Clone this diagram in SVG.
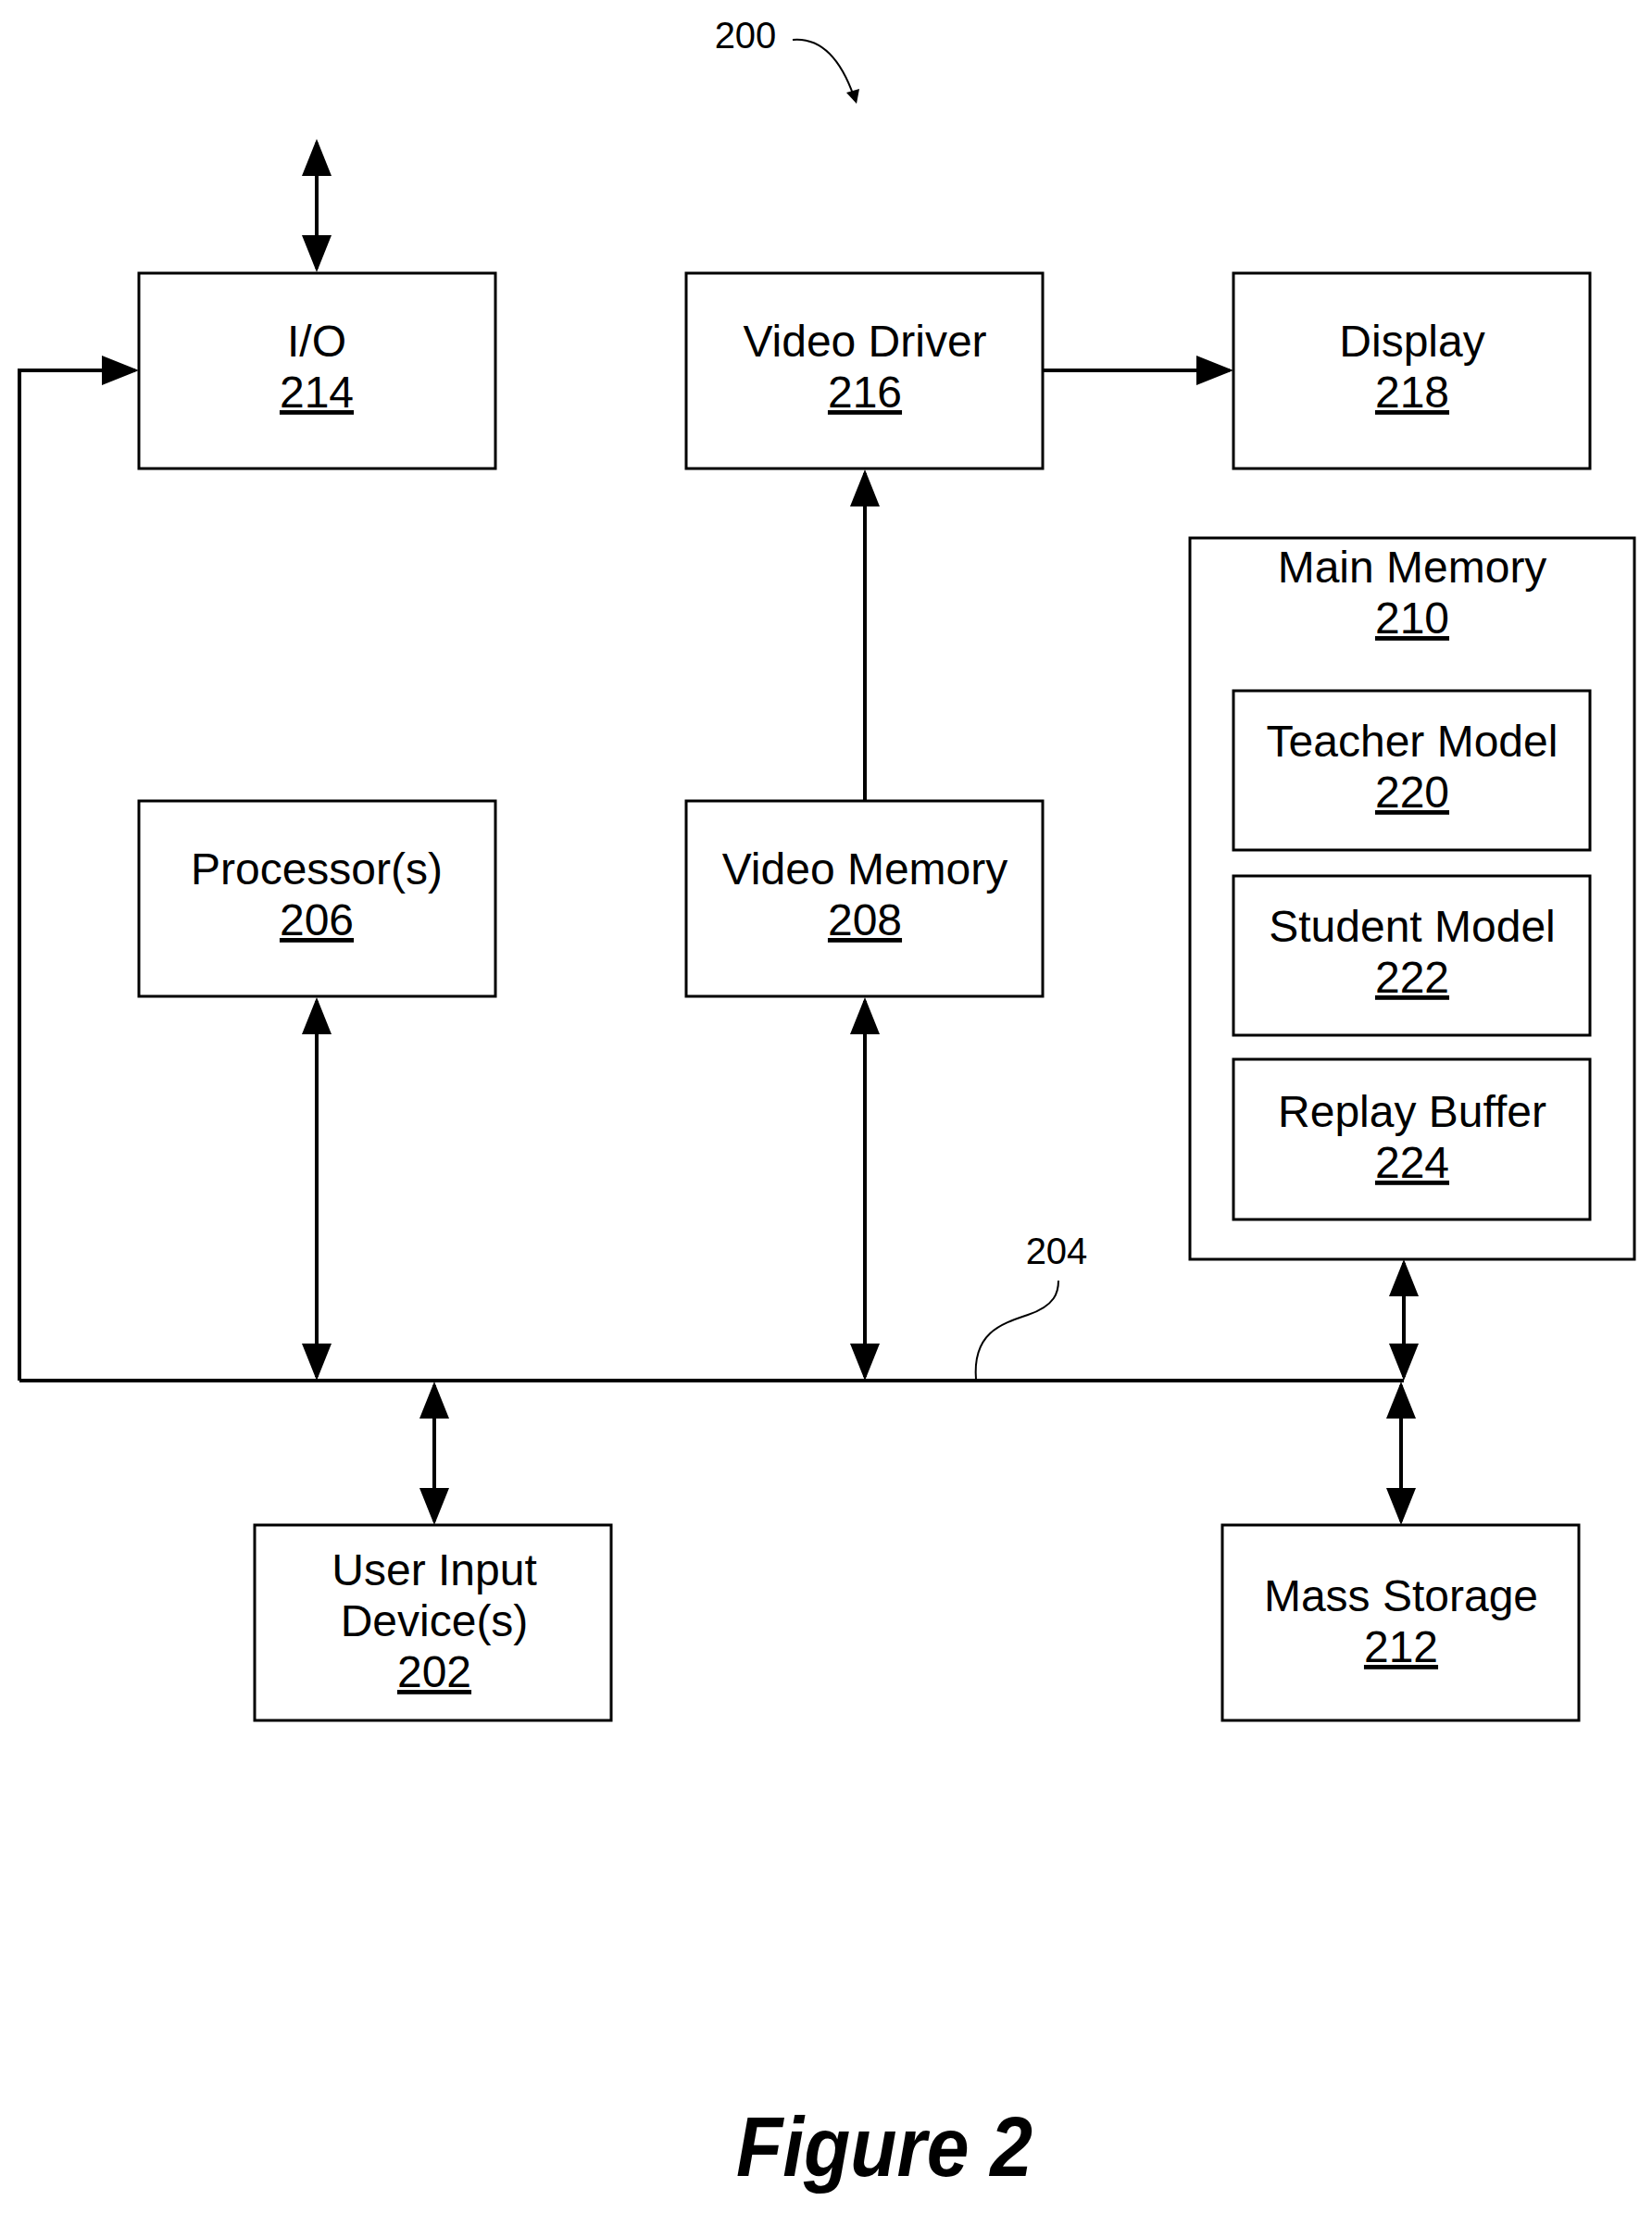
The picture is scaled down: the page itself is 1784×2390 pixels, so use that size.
<svg xmlns="http://www.w3.org/2000/svg" width="1784" height="2390" viewBox="0 0 1784 2390">
<style>
.b{fill:#fff;stroke:#000;stroke-width:3}
.t{font-family:"Liberation Sans",Arial,sans-serif;font-size:48px;text-anchor:middle;fill:#000}
.u{text-decoration:underline}
.c{stroke:#000;stroke-width:4;fill:none}
.l{font-family:"Liberation Sans",Arial,sans-serif;font-size:40px;text-anchor:middle}
</style>
<defs><marker id="a" markerWidth="10" markerHeight="8" refX="9" refY="4" orient="auto-start-reverse" markerUnits="strokeWidth"><path d="M0,0L10,4L0,8z" fill="#000"/></marker></defs>
<rect width="1784" height="2390" fill="#fff"/>
<g id="n214"><rect class="b" x="150" y="295" width="385" height="211"/><text class="t" x="342" y="385">I/O</text><text class="t u" x="342" y="440">214</text></g>
<g id="n216"><rect class="b" x="741" y="295" width="385" height="211"/><text class="t" x="934" y="385">Video Driver</text><text class="t u" x="934" y="440">216</text></g>
<g id="n218"><rect class="b" x="1332" y="295" width="385" height="211"/><text class="t" x="1525" y="385">Display</text><text class="t u" x="1525" y="440">218</text></g>
<g id="n210"><rect class="b" x="1285" y="581" width="480" height="779"/><text class="t" x="1525" y="629">Main Memory</text><text class="t u" x="1525" y="684">210</text></g>
<g id="n220"><rect class="b" x="1332" y="746" width="385" height="172"/><text class="t" x="1525" y="817">Teacher Model</text><text class="t u" x="1525" y="872">220</text></g>
<g id="n222"><rect class="b" x="1332" y="946" width="385" height="172"/><text class="t" x="1525" y="1017">Student Model</text><text class="t u" x="1525" y="1072">222</text></g>
<g id="n224"><rect class="b" x="1332" y="1144" width="385" height="173"/><text class="t" x="1525" y="1217">Replay Buffer</text><text class="t u" x="1525" y="1272">224</text></g>
<g id="n206"><rect class="b" x="150" y="865" width="385" height="211"/><text class="t" x="342" y="955">Processor(s)</text><text class="t u" x="342" y="1010">206</text></g>
<g id="n208"><rect class="b" x="741" y="865" width="385" height="211"/><text class="t" x="934" y="955">Video Memory</text><text class="t u" x="934" y="1010">208</text></g>
<g id="n202"><rect class="b" x="275" y="1647" width="385" height="211"/><text class="t" x="469" y="1712">User Input</text><text class="t" x="469" y="1767">Device(s)</text><text class="t u" x="469" y="1822">202</text></g>
<g id="n212"><rect class="b" x="1320" y="1647" width="385" height="211"/><text class="t" x="1513" y="1740">Mass Storage</text><text class="t u" x="1513" y="1795">212</text></g>
<g id="connectors">
<path class="c" d="M21,1491H1516"/>
<path class="c" d="M21,1491V400H146" marker-end="url(#a)"/>
<path class="c" d="M342,154V290" marker-start="url(#a)" marker-end="url(#a)"/>
<path class="c" d="M342,1081V1487" marker-start="url(#a)" marker-end="url(#a)"/>
<path class="c" d="M934,1081V1487" marker-start="url(#a)" marker-end="url(#a)"/>
<path class="c" d="M934,865V511" marker-end="url(#a)"/>
<path class="c" d="M1126,400H1328" marker-end="url(#a)"/>
<path class="c" d="M1516,1364V1487" marker-start="url(#a)" marker-end="url(#a)"/>
<path class="c" d="M1513,1496V1643" marker-start="url(#a)" marker-end="url(#a)"/>
<path class="c" d="M469,1496V1643" marker-start="url(#a)" marker-end="url(#a)"/>
<path d="M1054,1490C1050,1440 1080,1430 1110,1420C1140,1410 1143,1395 1143,1383" fill="none" stroke="#000" stroke-width="2"/>
<path d="M856,43C890,40 910,70 922,104" fill="none" stroke="#000" stroke-width="2"/>
<path d="M914,100L925,112L928,96z" fill="#000"/>
</g>
<text class="l" x="805" y="52">200</text>
<text class="l" x="1141" y="1365">204</text>
<text x="955" y="2350" font-family="Liberation Sans,Arial,sans-serif" font-size="90" font-weight="bold" font-style="italic" text-anchor="middle" textLength="320" lengthAdjust="spacingAndGlyphs">Figure 2</text>
</svg>
